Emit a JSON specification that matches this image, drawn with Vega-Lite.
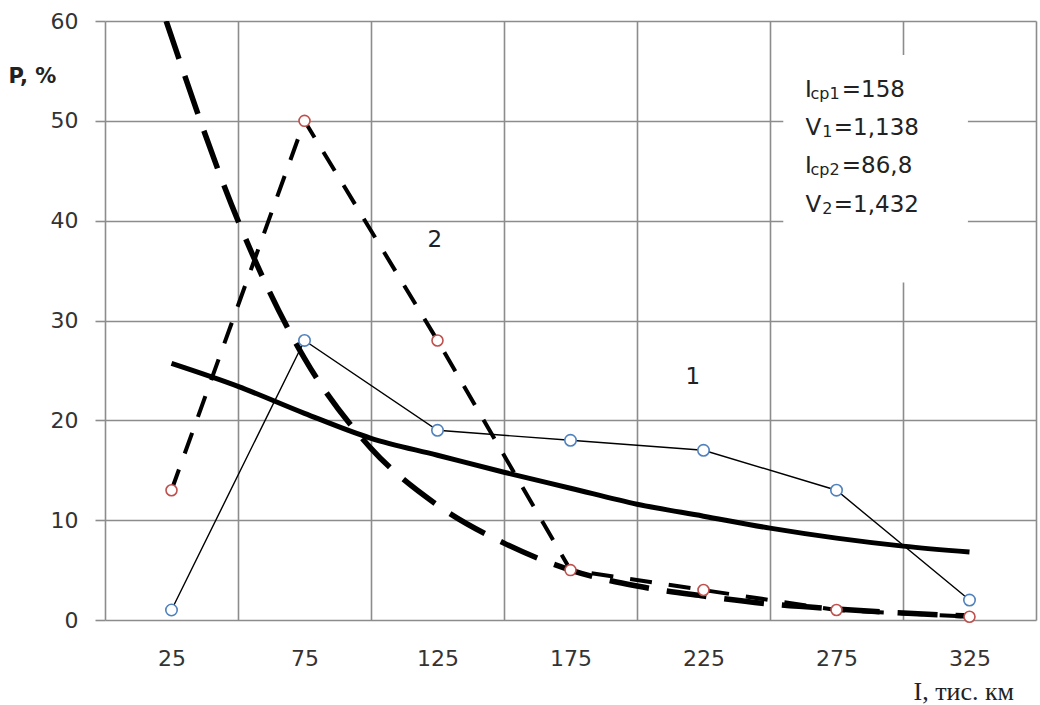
{
  "$schema": "https://vega.github.io/schema/vega-lite/v6.json",
  "width": 931,
  "height": 599,
  "autosize": {"type": "none"},
  "padding": {"left": 105, "top": 21, "right": 4, "bottom": 85},
  "background": "white",
  "config": {"view": {"stroke": null}, "font": "DejaVu Sans"},
  "datasets": {
    "emp": [
      {"I": 25, "P": 1, "series": "1"},
      {"I": 75, "P": 28, "series": "1"},
      {"I": 125, "P": 19, "series": "1"},
      {"I": 175, "P": 18, "series": "1"},
      {"I": 225, "P": 17, "series": "1"},
      {"I": 275, "P": 13, "series": "1"},
      {"I": 325, "P": 2, "series": "1"},
      {"I": 25, "P": 13, "series": "2"},
      {"I": 75, "P": 50, "series": "2"},
      {"I": 125, "P": 28, "series": "2"},
      {"I": 175, "P": 5, "series": "2"},
      {"I": 225, "P": 3, "series": "2"},
      {"I": 275, "P": 1, "series": "2"},
      {"I": 325, "P": 0.33, "series": "2"}
    ],
    "fit": [
      {"I": 25, "P": 25.7, "curve": "1"},
      {"I": 50, "P": 23.4, "curve": "1"},
      {"I": 75, "P": 20.7, "curve": "1"},
      {"I": 100, "P": 18.2, "curve": "1"},
      {"I": 125, "P": 16.5, "curve": "1"},
      {"I": 150, "P": 14.8, "curve": "1"},
      {"I": 175, "P": 13.2, "curve": "1"},
      {"I": 200, "P": 11.6, "curve": "1"},
      {"I": 225, "P": 10.4, "curve": "1"},
      {"I": 250, "P": 9.2, "curve": "1"},
      {"I": 275, "P": 8.2, "curve": "1"},
      {"I": 300, "P": 7.4, "curve": "1"},
      {"I": 325, "P": 6.8, "curve": "1"},
      {"I": 23, "P": 60, "curve": "2"},
      {"I": 50, "P": 40, "curve": "2"},
      {"I": 75, "P": 26.2, "curve": "2"},
      {"I": 100, "P": 17.2, "curve": "2"},
      {"I": 125, "P": 11.5, "curve": "2"},
      {"I": 150, "P": 7.7, "curve": "2"},
      {"I": 175, "P": 5.0, "curve": "2"},
      {"I": 200, "P": 3.4, "curve": "2"},
      {"I": 225, "P": 2.4, "curve": "2"},
      {"I": 250, "P": 1.6, "curve": "2"},
      {"I": 275, "P": 1.1, "curve": "2"},
      {"I": 300, "P": 0.7, "curve": "2"},
      {"I": 325, "P": 0.4, "curve": "2"}
    ],
    "box": [
      {"I": 255, "I2": 324.4, "P": 56.6, "P2": 33.8}
    ],
    "labels": [
      {"I": 124, "P": 38.1, "text": "2"},
      {"I": 221, "P": 24.3, "text": "1"}
    ],
    "notes": [
      {"I": 263.2, "P": 52.4, "text": "I", "kind": "main"},
      {"I": 265.2, "P": 52.2, "text": "ср1", "kind": "sub"},
      {"I": 277.0, "P": 52.4, "text": "=158", "kind": "main"},
      {"I": 263.3, "P": 48.6, "text": "V", "kind": "main"},
      {"I": 269.6, "P": 48.4, "text": "1", "kind": "sub"},
      {"I": 274.0, "P": 48.6, "text": "=1,138", "kind": "main"},
      {"I": 263.2, "P": 44.8, "text": "I", "kind": "main"},
      {"I": 265.2, "P": 44.6, "text": "ср2", "kind": "sub"},
      {"I": 277.0, "P": 44.8, "text": "=86,8", "kind": "main"},
      {"I": 263.3, "P": 40.9, "text": "V", "kind": "main"},
      {"I": 269.6, "P": 40.7, "text": "2", "kind": "sub"},
      {"I": 274.0, "P": 40.9, "text": "=1,432", "kind": "main"}
    ]
  },
  "encoding": {
    "x": {
      "field": "I",
      "type": "quantitative",
      "scale": {"domain": [0, 350], "nice": false, "zero": false},
      "axis": {
        "values": [0, 25, 50, 75, 100, 125, 150, 175, 200, 225, 250, 275, 300, 325, 350],
        "labelExpr": "datum.value % 50 == 25 ? datum.label : ''",
        "grid": true,
        "gridColor": "#8c8c8c",
        "gridOpacity": {"condition": {"test": "datum.value % 50 == 0", "value": 1}, "value": 0},
        "gridWidth": 1.6,
        "ticks": false,
        "domain": false,
        "labelFont": "DejaVu Sans",
        "labelFontSize": 22,
        "labelColor": "#333333",
        "labelBaseline": "alphabetic",
        "labelPadding": 45,
        "labelFlush": false,
        "labelOverlap": false,
        "title": "I, тис. км",
        "titleFont": "Liberation Serif",
        "titleFontSize": 26,
        "titleFontWeight": "normal",
        "titleColor": "#222222",
        "titleX": 808,
        "titleY": 79,
        "titleAlign": "left",
        "titleBaseline": "alphabetic"
      }
    },
    "y": {
      "field": "P",
      "type": "quantitative",
      "scale": {"domain": [0, 60], "nice": false, "zero": false},
      "axis": {
        "values": [0, 10, 20, 30, 40, 50, 60],
        "grid": true,
        "gridColor": "#8c8c8c",
        "gridWidth": 1.6,
        "domain": false,
        "ticks": true,
        "tickSize": 10,
        "tickColor": "#8c8c8c",
        "tickWidth": 1.6,
        "labelFont": "DejaVu Sans",
        "labelFontSize": 22,
        "labelColor": "#333333",
        "labelPadding": 17,
        "labelFlush": false,
        "labelOverlap": false,
        "title": "P, %",
        "titleAngle": 0,
        "titleX": -97,
        "titleY": 61,
        "titleAlign": "left",
        "titleBaseline": "alphabetic",
        "titleFont": "DejaVu Sans",
        "titleFontSize": 21,
        "titleFontWeight": "bold",
        "titleColor": "#222222"
      }
    }
  },
  "layer": [
    {
      "data": {"name": "box"},
      "mark": {"type": "rect", "fill": "white", "stroke": null},
      "encoding": {"x2": {"field": "I2"}, "y2": {"field": "P2"}}
    },
    {
      "data": {"name": "fit"},
      "transform": [{"filter": "datum.curve == '1'"}],
      "mark": {"type": "line", "color": "black", "strokeWidth": 5, "interpolate": "monotone", "clip": true}
    },
    {
      "data": {"name": "fit"},
      "transform": [{"filter": "datum.curve == '2'"}],
      "mark": {"type": "line", "color": "black", "strokeWidth": 5.5, "strokeDash": [40, 18], "interpolate": "monotone", "clip": true}
    },
    {
      "data": {"name": "emp"},
      "transform": [{"filter": "datum.series == '1'"}],
      "mark": {"type": "line", "color": "black", "strokeWidth": 1.4}
    },
    {
      "data": {"name": "emp"},
      "transform": [{"filter": "datum.series == '2'"}],
      "mark": {"type": "line", "color": "black", "strokeWidth": 4, "strokeDash": [22, 17]}
    },
    {
      "data": {"name": "emp"},
      "transform": [{"filter": "datum.series == '1'"}],
      "mark": {"type": "point", "shape": "circle", "size": 130, "filled": false, "fill": "white", "fillOpacity": 1, "stroke": "#4f81bd", "strokeWidth": 1.6, "opacity": 1}
    },
    {
      "data": {"name": "emp"},
      "transform": [{"filter": "datum.series == '2'"}],
      "mark": {"type": "point", "shape": "circle", "size": 120, "filled": false, "fill": "white", "fillOpacity": 1, "stroke": "#c0504d", "strokeWidth": 1.6, "opacity": 1}
    },
    {
      "data": {"name": "labels"},
      "mark": {"type": "text", "font": "DejaVu Sans", "fontSize": 23, "color": "#222222", "align": "center", "baseline": "middle"},
      "encoding": {"text": {"field": "text"}}
    },
    {
      "data": {"name": "notes"},
      "mark": {"type": "text", "font": "DejaVu Sans", "color": "#222222", "align": "left", "baseline": "alphabetic"},
      "encoding": {
        "text": {"field": "text"},
        "size": {"field": "kind", "type": "nominal", "scale": {"domain": ["main", "sub"], "range": [23, 16]}, "legend": null}
      }
    }
  ]
}
